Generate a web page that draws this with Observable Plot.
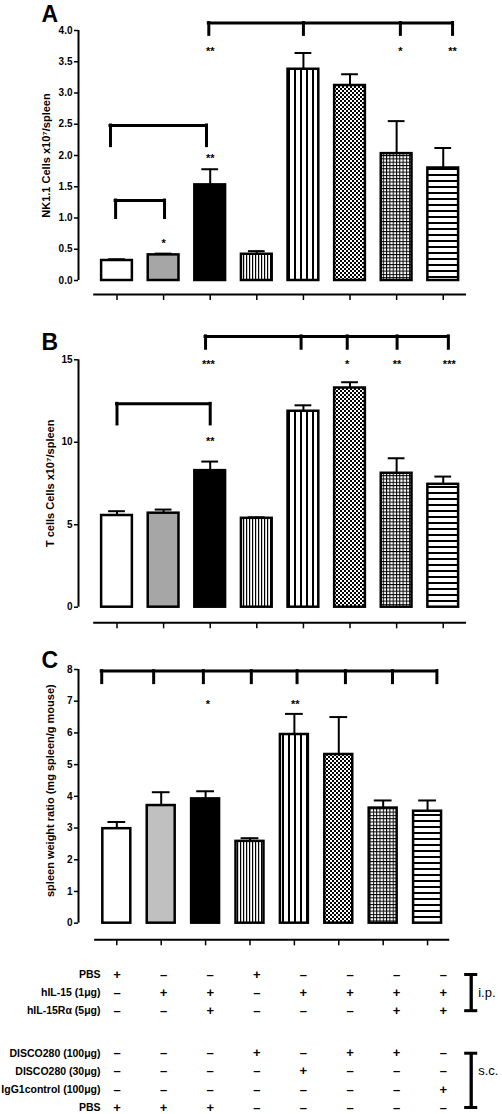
<!DOCTYPE html>
<html>
<head>
<meta charset="utf-8">
<script src="https://cdn.jsdelivr.net/npm/d3@7"></script>
<script src="https://cdn.jsdelivr.net/npm/@observablehq/plot@0.6"></script>
<style>
  body { margin: 0; background: #fff; font-family: "Liberation Sans", Arial, sans-serif; }
  #root { position: relative; width: 502px; height: 1114px; overflow: hidden; background: #fff; }
  .slot { position: absolute; left: 0; }
</style>
</head>
<body>
<svg width="0" height="0" style="position:absolute">
  <defs>
    <pattern id="vdense" patternUnits="userSpaceOnUse" width="3" height="3">
      <rect width="3" height="3" fill="#fff"/><rect width="1.2" height="3" fill="#000"/>
    </pattern>
    <pattern id="vwide" patternUnits="userSpaceOnUse" width="6" height="6">
      <rect width="6" height="6" fill="#fff"/><rect width="2" height="6" fill="#000"/>
    </pattern>
    <pattern id="check" patternUnits="userSpaceOnUse" width="4" height="4">
      <rect width="4" height="4" fill="#fff"/><rect width="2" height="2" fill="#000"/><rect x="2" y="2" width="2" height="2" fill="#000"/>
    </pattern>
    <pattern id="grid" patternUnits="userSpaceOnUse" width="3.3" height="3.3">
      <rect width="3.3" height="3.3" fill="#fff"/><rect width="1" height="3.3" fill="#000"/><rect width="3.3" height="1" fill="#000"/>
    </pattern>
    <pattern id="hstripe" patternUnits="userSpaceOnUse" width="6" height="6">
      <rect width="6" height="6" fill="#fff"/><rect width="6" height="2" fill="#000"/>
    </pattern>
  </defs>
</svg>
<div id="root"></div>
<script>
// ---------------- DATA ----------------
const groups = ["PBS", "hIL-15", "hIL-15 + hIL-15Rα", "DISCO280 100μg", "hIL-15 + DISCO280 30μg",
                "hIL-15 + DISCO280 100μg", "hIL-15/Rα + DISCO280 100μg", "hIL-15/Rα + IgG1control"];

// Panel A: NK1.1 cells x10^7/spleen (mean, SEM)
const nkMean = [0.32, 0.41, 1.53, 0.42, 3.38, 3.12, 2.03, 1.80];
const nkSem  = [0.02, 0.02, 0.25, 0.05, 0.26, 0.18, 0.52, 0.32];
// Panel B: T cells x10^7/spleen
const tMean = [5.56, 5.70, 8.28, 5.39, 11.88, 13.29, 8.12, 7.45];
const tSem  = [0.26, 0.22, 0.55, 0.06, 0.36, 0.35, 0.91, 0.47];
// Panel C: spleen weight ratio (mg spleen / g mouse)
const spMean = [2.98, 3.71, 3.92, 2.58, 5.95, 5.32, 3.63, 3.53];
const spSem  = [0.21, 0.42, 0.24, 0.10, 0.65, 1.18, 0.24, 0.34];

// tick labels
const ticksA = [0, 0.5, 1, 1.5, 2, 2.5, 3, 3.5, 4];
const ticksB = [0, 5, 10, 15];
const ticksC = [0, 1, 2, 3, 4, 5, 6, 7, 8];

// significance brackets (legs in group-slot units, heights in data units)
const bracketsA = [
  {legs: [-0.03, 1.02], top: 1.28, foot: 1.0},
  {legs: [-0.14, 1.92], top: 2.48, foot: 2.15},
  {legs: [1.97, 4.0, 6.08, 7.2], top: 4.12, foot: 3.93}
];
const starsA = [
  {x: 1, y: 0.64, t: "*"}, {x: 2, y: 2.0, t: "**"},
  {x: 2, y: 3.72, t: "**"}, {x: 6.08, y: 3.72, t: "*"}, {x: 7.2, y: 3.72, t: "**"}
];
const bracketsB = [
  {legs: [0, 2], top: 12.33, foot: 11.08},
  {legs: [1.9, 3.95, 4.94, 6.01, 7.11], top: 16.42, foot: 15.67}
];
const starsB = [
  {x: 2, y: 10.2, t: "**"},
  {x: 1.96, y: 14.92, t: "***"}, {x: 4.94, y: 14.92, t: "*"},
  {x: 6.01, y: 14.92, t: "**"}, {x: 7.13, y: 14.92, t: "***"}
];
const bracketsC = [
  {legs: [-0.34, 0.83, 1.95, 3.03, 4.06, 5.15, 6.21, 7.21], top: 7.95, foot: 7.57}
];
const starsC = [{x: 2.05, y: 7.0, t: "*"}, {x: 4.02, y: 7.0, t: "**"}];

// treatment table
const rowLabels = ["PBS", "hIL-15 (1μg)", "hIL-15Rα (5μg)", "DISCO280 (100μg)", "DISCO280 (30μg)", "IgG1control (100μg)", "PBS"];
const treatments = [
  [1, 0, 0, 1, 0, 0, 0, 0],
  [0, 1, 1, 0, 1, 1, 1, 1],
  [0, 0, 1, 0, 0, 0, 1, 1],
  [0, 0, 0, 1, 0, 1, 1, 0],
  [0, 0, 0, 0, 1, 0, 0, 0],
  [0, 0, 0, 0, 0, 0, 0, 1],
  [1, 1, 1, 0, 0, 0, 0, 0]
];
const routes = [{name: "i.p.", rows: [0, 2], labelRow: 1}, {name: "s.c.", rows: [3, 6], labelRow: 4}];

// ---------------- LAYOUT / STYLE ----------------
const idx = d3.range(groups.length);
const rowSlots = [0, 1, 2, 4.35, 5.35, 6.35, 7.35];
const FONT = "'Liberation Sans', Arial, Helvetica, sans-serif";
const fillsAB = ["#ffffff", "#a6a6a6", "#000000", "url(#vdense)", "url(#vwide)", "url(#check)", "url(#grid)", "url(#hstripe)"];
const fillsC  = ["#ffffff", "#c0c0c0", "#000000", "url(#vdense)", "url(#vwide)", "url(#check)", "url(#grid)", "url(#hstripe)"];
const xDomAB = [-0.826, 7.6];
const xDomC = [-0.863, 7.6];

function panel(c) {
  const yMax = c.ticks[c.ticks.length - 1];
  const legs = c.brackets.flatMap(b => b.legs.map(x => ({x, top: b.top, foot: b.foot})));
  return Plot.plot({
    width: 502, height: c.height,
    marginLeft: 78, marginRight: c.marginRight, marginTop: c.marginTop, marginBottom: c.marginBottom,
    x: {domain: c.xDomain},
    y: {domain: c.yDomain},
    color: {type: "identity"},
    style: {fontFamily: FONT, background: "#fff", color: "#000"},
    marks: [
      Plot.ruleX([c.xDomain[0]], {y1: 0, y2: yMax, strokeWidth: 2}),
      Plot.axisY({ticks: c.ticks, tickFormat: c.fmt, tickSize: 4, tickPadding: 2, fontSize: 10, fontWeight: "bold", strokeWidth: 1.5, label: null}),
      Plot.ruleY([c.yDomain[0]], {x1: -0.5, x2: 7.5, strokeWidth: 2}),
      Plot.axisX({ticks: idx, tickSize: 6, tickFormat: () => "", strokeWidth: 1.5, label: null}),
      Plot.ruleX(idx, {x: i => i, y1: i => c.mean[i], y2: i => c.mean[i] + c.sem[i], strokeWidth: 2}),
      Plot.ruleY(idx, {y: i => c.mean[i] + c.sem[i], x1: i => i - c.cap, x2: i => i + c.cap, strokeWidth: 2}),
      Plot.rectY(idx, {x1: i => i - c.half, x2: i => i + c.half, y1: 0, y2: i => c.mean[i],
                       fill: i => c.fills[i], stroke: "#000", strokeWidth: 2.5}),
      Plot.ruleY(c.brackets, {y: "top", x1: b => b.legs[0], x2: b => b.legs[b.legs.length - 1], strokeWidth: 3, strokeLinecap: "square"}),
      Plot.ruleX(legs, {x: "x", y1: "foot", y2: "top", strokeWidth: 3, strokeLinecap: "square"}),
      Plot.text(c.stars, {x: "x", y: "y", text: "t", fontSize: 11, fontWeight: "bold", dy: 3}),
      Plot.text([c.yLabel], {frameAnchor: "left", textAnchor: "middle", lineAnchor: "middle", rotate: -90, dx: c.labelDx, dy: c.labelDy, fontSize: 11, fontWeight: "bold"}),
      Plot.text([c.letter], {frameAnchor: "top-left", textAnchor: "start", lineAnchor: "top", dx: -37, dy: c.letterDy, fontSize: 23, fontWeight: "bold"})
    ]
  });
}

const root = document.getElementById("root");
function place(node, top) {
  const d = document.createElement("div");
  d.className = "slot";
  d.style.top = top + "px";
  d.appendChild(node);
  root.appendChild(d);
}

place(panel({
  mean: nkMean, sem: nkSem, ticks: ticksA, fmt: d3.format(".1f"),
  yLabel: "NK1.1 Cells x10⁷/spleen", letter: "A",
  xDomain: xDomAB, yDomain: [-0.224, 4], height: 330, marginTop: 30, marginBottom: 36, marginRight: 31.3,
  brackets: bracketsA, stars: starsA, fills: fillsAB, half: 0.33, cap: 0.18,
  labelDx: -32, labelDy: -7, letterDy: -25
}), 0);

place(panel({
  mean: tMean, sem: tSem, ticks: ticksB, fmt: d3.format("d"),
  yLabel: "T cells Cells x10⁷/spleen", letter: "B",
  xDomain: xDomAB, yDomain: [-0.946, 15], height: 320, marginTop: 29.3, marginBottom: 27.7, marginRight: 31.3,
  brackets: bracketsB, stars: starsB, fills: fillsAB, half: 0.33, cap: 0.18,
  labelDx: -28, labelDy: -8, letterDy: -26
}), 330);

place(panel({
  mean: spMean, sem: spSem, ticks: ticksC, fmt: d3.format("d"),
  yLabel: "spleen weight ratio (mg spleen/g mouse)", letter: "C",
  xDomain: xDomC, yDomain: [-0.524, 8], height: 310, marginTop: 29, marginBottom: 10.7, marginRight: 48.3,
  brackets: bracketsC, stars: starsC, fills: fillsC, half: 0.315, cap: 0.2,
  labelDx: -28, labelDy: -14, letterDy: -18
}), 640);

// treatment table
const cells = treatments.flatMap((row, r) => row.map((v, col) => ({r, col, s: v ? "+" : "–"})));
const caps = routes.flatMap(g => g.rows.map(r => rowSlots[r]));
place(Plot.plot({
  width: 502, height: 164, marginLeft: 78, marginRight: 31.3, marginTop: 24, marginBottom: 7,
  x: {domain: xDomAB, axis: null},
  y: {domain: [0, 7.35], reverse: true, axis: null},
  style: {fontFamily: FONT, background: "#fff", color: "#000"},
  marks: [
    Plot.text(rowLabels, {y: (d, i) => rowSlots[i], frameAnchor: "left", dx: 22, textAnchor: "end", fontSize: 10.5, fontWeight: "bold"}),
    Plot.text(cells, {x: "col", y: d => rowSlots[d.r], text: "s", fontSize: 13, fontWeight: "bold"}),
    Plot.ruleX(routes, {x: xDomAB[1], y1: g => rowSlots[g.rows[0]], y2: g => rowSlots[g.rows[1]], strokeWidth: 3.3}),
    Plot.ruleY(caps, {y: d => d, x1: xDomAB[1] - 0.14, x2: xDomAB[1] + 0.14, strokeWidth: 3}),
    Plot.text(routes, {x: xDomAB[1], y: g => rowSlots[g.labelRow], text: "name", dx: 7, textAnchor: "start", fontSize: 13})
  ]
}), 950);
</script>
</body>
</html>
